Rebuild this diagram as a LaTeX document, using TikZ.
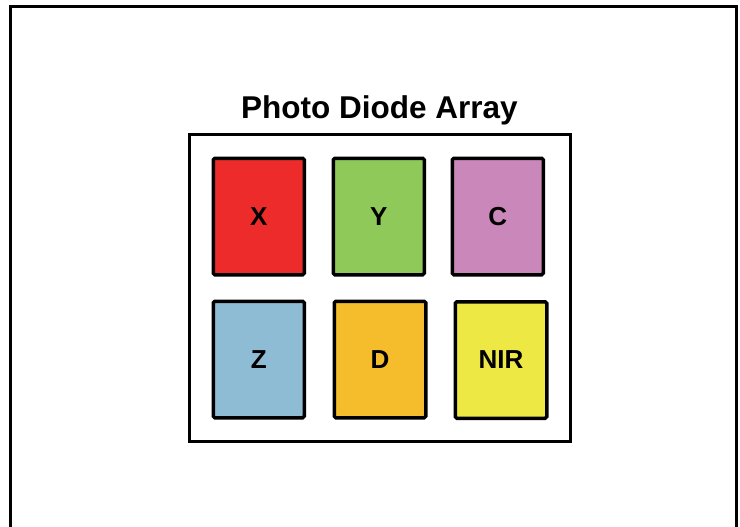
\documentclass[tikz,border=0pt]{standalone}
\usepackage{fontspec}
\setmainfont{Liberation Sans}
\definecolor{cX}{HTML}{EE2B2B}
\definecolor{cY}{HTML}{8FC95A}
\definecolor{cC}{HTML}{CA87B9}
\definecolor{cZ}{HTML}{8DBCD4}
\definecolor{cD}{HTML}{F5BC2B}
\definecolor{cN}{HTML}{EEE845}
\begin{document}
\begin{tikzpicture}[x=1pt,y=-1pt,
  diode/.style={draw=black, line width=3.5pt, rounded corners=1.5pt, inner sep=0pt,
    font=\fontsize{26}{30}\selectfont\bfseries},
  frame/.style={draw=black, line width=3.5pt, inner sep=0pt}]
\useasboundingbox (0,0) rectangle (740,527);
\draw[line width=3pt] (10,528) -- (10,7) -- (736.5,7) -- (736.5,528);
\node[frame, minimum width=381pt, minimum height=307pt] (array) at (380,288) {};
\node[anchor=base, font=\fontsize{31.5}{36}\selectfont\bfseries] (title) at (379.5,118) {Photo Diode Array};
\node[diode, fill=cX, minimum width=91pt, minimum height=116.5pt] (x) at (258.75,216.5) {X};
\node[diode, fill=cY, minimum width=91pt, minimum height=116.5pt] (y) at (378.75,216.5) {Y};
\node[diode, fill=cC, minimum width=91pt, minimum height=116.5pt] (c) at (497.75,216.5) {C};
\node[diode, fill=cZ, minimum width=91pt, minimum height=116.5pt] (z) at (258.75,359.5) {Z};
\node[diode, fill=cD, minimum width=91.5pt, minimum height=116.5pt] (d) at (380,359.5) {D};
\node[diode, fill=cN, minimum width=91.5pt, minimum height=116.5pt] (nir) at (501,360) {NIR};
\end{tikzpicture}
\end{document}
